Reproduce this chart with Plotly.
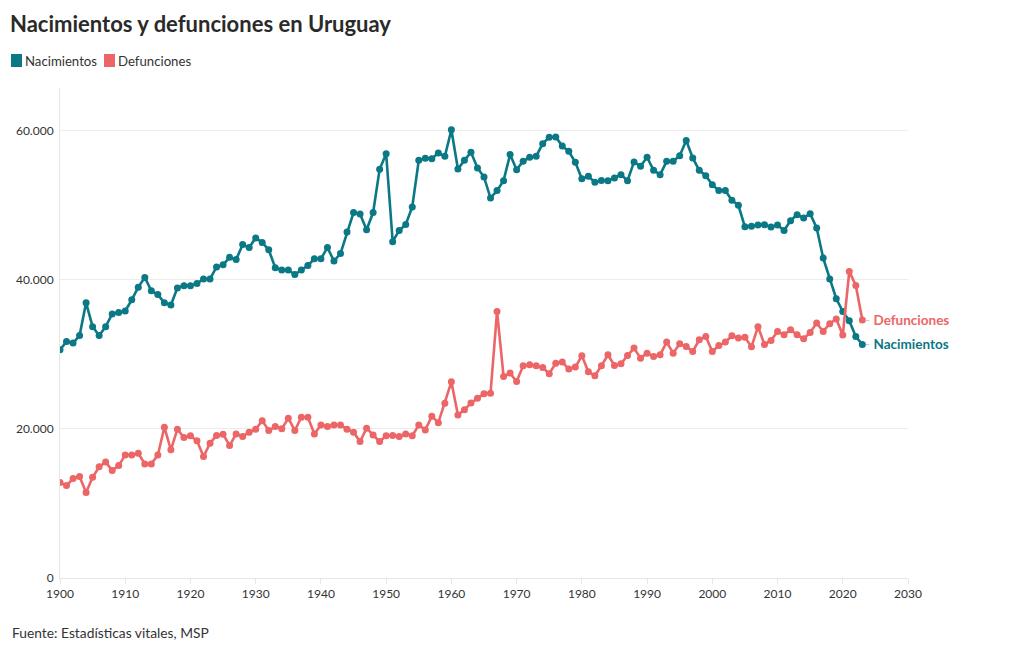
import plotly.graph_objects as go

years = list(range(1900, 2024))

nacimientos = [
    30600, 31700, 31500, 32500, 36900, 33700, 32500, 33700, 35400, 35600,
    35800, 37300, 39000, 40300, 38500, 38000, 36900, 36600, 38900, 39200,
    39200, 39500, 40100, 40100, 41700, 42000, 43000, 42700, 44700, 44300,
    45600, 45000, 44000, 41600, 41300, 41300, 40700, 41300, 41900, 42800,
    42800, 44300, 42500, 43500, 46400, 49000, 48800, 46700, 49000, 54800,
    56900, 45100, 46600, 47400, 49750, 56000, 56270, 56230, 57000, 56540,
    60100, 54850, 56000, 57080, 54980, 53770, 50950, 51940, 53280, 56770,
    54750, 55870, 56410, 56540, 58240, 59090, 59140, 57920, 57210, 55740,
    53530, 53860, 53050, 53300, 53280, 53640, 54080, 53280, 55790, 55200,
    56410, 54660, 54080, 55870, 55870, 56630, 58650, 56320, 54660, 53950,
    52740, 51940, 51940, 50640, 49970, 47080, 47150, 47330, 47370, 47060,
    47330, 46610, 47910, 48720, 48270, 48850, 46930, 42900, 40090, 37440,
    35740, 34490, 32380, 31310,
]

defunciones = [
    12790, 12390, 13330, 13600, 11450, 13510, 14900, 15570, 14400, 15070,
    16500, 16500, 16730, 15300, 15300, 16500, 20220, 17180, 19950, 18830,
    19060, 18390, 16280, 18080, 19100, 19280, 17750, 19320, 18960, 19550,
    19950, 21100, 19770, 20300, 20000, 21430, 19770, 21560, 21560, 19320,
    20530, 20300, 20530, 20530, 19950, 19550, 18290, 20090, 19190, 18290,
    19060, 19100, 18960, 19320, 19060, 20530, 19860, 21700, 20830, 23440,
    26300, 21870, 22550, 23480, 24110, 24690, 24780, 35740, 27020, 27470,
    26340, 28450, 28580, 28450, 28220, 27380, 28810, 28950, 28010, 28280,
    29790, 27650, 27130, 28450, 29930, 28490, 28720, 29830, 30830, 29480,
    30150, 29700, 29930, 31630, 30150, 31400, 31040, 30370, 31940, 32380,
    30370, 31180, 31630, 32480, 32170, 32270, 31000, 33680, 31320, 31850,
    33060, 32610, 33280, 32610, 32070, 32920, 34180, 33060, 34090, 34720,
    32570, 41110, 39230, 34580,
]

series_names = ["Nacimientos", "Defunciones"]
x_ticks = [1900, 1910, 1920, 1930, 1940, 1950, 1960, 1970, 1980, 1990, 2000, 2010, 2020, 2030]
y_ticks = [0, 20000, 40000, 60000]

TEAL = "#0a7885"
RED = "#ec6567"
FONT = "Lato"

W, H = 1020, 650
ML, MR, MT, MB = 60, 112, 88, 72
PW, PH = W - ML - MR, H - MT - MB


def px_x(px):
    return (px - ML) / PW


def px_y(py):
    return (H - MB - py) / PH


fig = go.Figure()

fig.add_trace(go.Scatter(
    x=years, y=nacimientos, mode="lines+markers", name=series_names[0],
    line=dict(color=TEAL, width=2.6), marker=dict(color=TEAL, size=7),
    showlegend=False,
))
fig.add_trace(go.Scatter(
    x=years, y=defunciones, mode="lines+markers", name=series_names[1],
    line=dict(color=RED, width=2.6), marker=dict(color=RED, size=7),
    showlegend=False,
))

# end labels
for name, vals, col in [(series_names[1], defunciones, RED), (series_names[0], nacimientos, TEAL)]:
    fig.add_annotation(
        x=years[-1], y=vals[-1], xref="x", yref="y",
        text=f"<span style='color:#c8c8c8'>-</span> <b>{name}</b>",
        showarrow=False, xanchor="left", yanchor="middle", xshift=1,
        font=dict(family=FONT, size=13.5, color=col),
    )

# manual legend
legend_items = [(series_names[0], TEAL, 11), (series_names[1], RED, 104)]
for name, col, x0 in legend_items:
    fig.add_shape(
        type="rect", xref="paper", yref="paper",
        x0=px_x(x0), x1=px_x(x0 + 11), y0=px_y(67), y1=px_y(54),
        fillcolor=col, line=dict(width=0),
    )
    fig.add_annotation(
        text=name, xref="paper", yref="paper", x=px_x(x0 + 12), y=px_y(60.5),
        xanchor="left", yanchor="middle", showarrow=False,
        font=dict(family=FONT, size=13.2, color="#333333"),
    )

fig.update_layout(
    width=W, height=H,
    paper_bgcolor="white", plot_bgcolor="white",
    margin=dict(l=ML, r=MR, t=MT, b=MB, autoexpand=False),
    separators=",.",
    showlegend=False,
    font=dict(family=FONT, size=12, color="#333333"),
    title=dict(
        text="<b>Nacimientos y defunciones en Uruguay</b>",
        x=10 / W, xanchor="left", y=1 - 24 / H, yanchor="middle",
        font=dict(family=FONT, size=22, color="#2a2a2a"),
    ),
    xaxis=dict(
        range=[1900, 2030], tickvals=x_ticks, showgrid=False,
        showline=True, linecolor="#e6e6e6", linewidth=1,
        ticks="outside", ticklen=5, tickcolor="#e6e6e6",
        tickfont=dict(family=FONT, size=12, color="#333333"),
        zeroline=False,
    ),
    yaxis=dict(
        range=[0, 65700], tickvals=y_ticks, tickformat=",.0f",
        showgrid=True, gridcolor="#ececec", gridwidth=1,
        showline=True, linecolor="#e6e6e6", linewidth=1,
        zeroline=False, ticks="", ticklabelstandoff=3,
        tickfont=dict(family=FONT, size=12, color="#333333"),
    ),
)

fig.add_annotation(
    text="Fuente: Estadísticas vitales, MSP", xref="paper", yref="paper",
    x=px_x(10), y=px_y(632), xanchor="left", yanchor="middle", showarrow=False,
    font=dict(family=FONT, size=13.8, color="#333333"),
)

fig.write_html(
    "out.html",
    config={"displayModeBar": False},
    post_script="document.body.style.margin='0';",
)
